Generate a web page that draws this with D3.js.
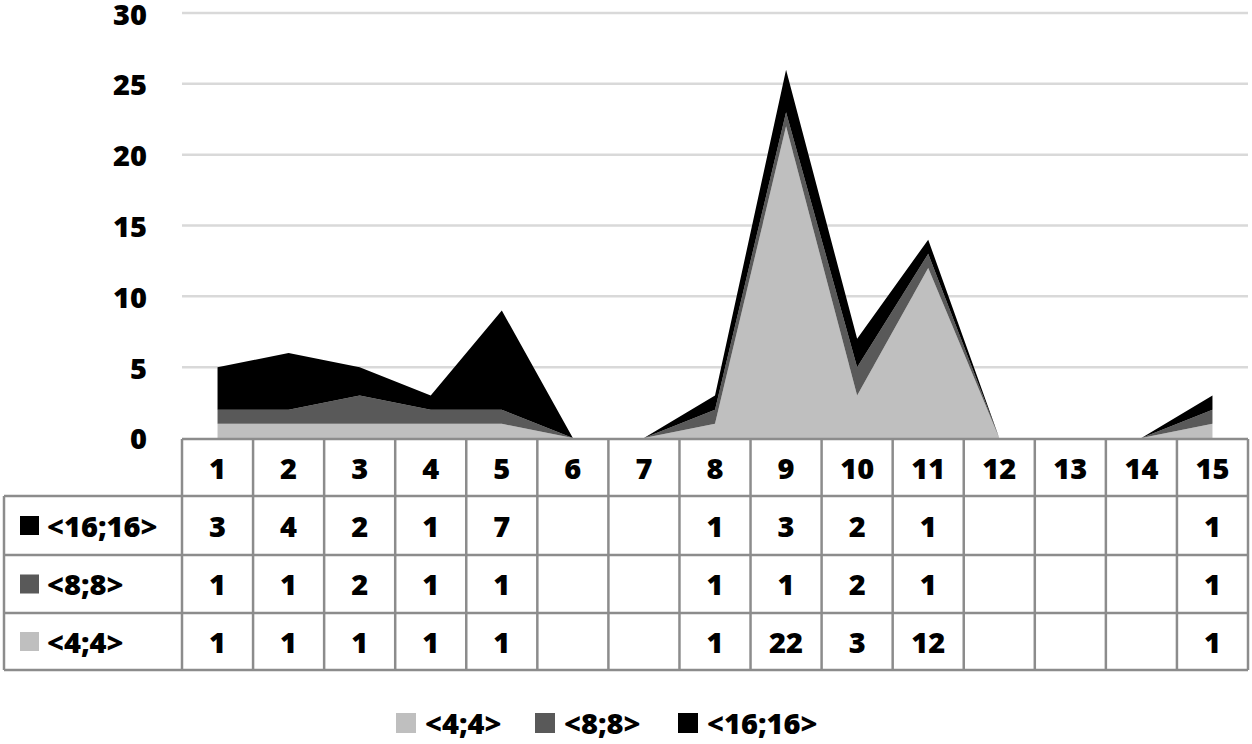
<!DOCTYPE html>
<html><head><meta charset="utf-8">
<script src="https://cdn.jsdelivr.net/npm/d3@7/dist/d3.min.js"></script>
<style>
body{margin:0;background:#fff;}
text{font-family:"Open Sans",Lato,sans-serif;font-weight:800;fill:#000;}
</style></head>
<body><svg id="c" width="1252" height="744"></svg>
<script>
const categories = ["1","2","3","4","5","6","7","8","9","10","11","12","13","14","15"];
const seriesNames = ["<4;4>","<8;8>","<16;16>"];
const s4  = [1,1,1,1,1,null,null,1,22,3,12,null,null,null,1];
const s8  = [1,1,2,1,1,null,null,1,1,2,1,null,null,null,1];
const s16 = [3,4,2,1,7,null,null,1,3,2,1,null,null,null,1];
const yTicks = [0,5,10,15,20,25,30];
const colors = ["#bfbfbf","#595959","#000000"];

const FS = "29px";
const svg = d3.select("#c");
const left = 182, right = 1248, y0 = 438, y30 = 13;
const x = d3.scaleBand().domain(categories).range([left,right]);
const y = d3.scaleLinear().domain([0,30]).range([y0,y30]);

// gridlines
svg.append("g").selectAll("line").data(yTicks.filter(d=>d>0)).join("line")
  .attr("x1",left).attr("x2",right).attr("y1",d=>y(d)).attr("y2",d=>y(d))
  .attr("stroke","#d9d9d9").attr("stroke-width",2.5);
// y labels
svg.append("g").selectAll("text").data(yTicks).join("text")
  .attr("x",147).attr("y",d=>Math.max(y(d)+1,15)).attr("dy","0.36em").attr("text-anchor","end")
  .style("font-size",FS).text(d=>d);

// stacked areas
const rows = categories.map((c,i)=>({cat:c, a:s4[i]||0, b:s8[i]||0, c2:s16[i]||0}));
const stack = d3.stack().keys(["a","b","c2"])(rows);
const area = d3.area().x(d=>x(d.data.cat)+x.bandwidth()/2).y0(d=>y(d[0])).y1(d=>y(d[1]));
svg.append("g").selectAll("path").data(stack).join("path")
  .attr("d",area).attr("fill",(d,i)=>colors[i]);

// table
const rowTop = [439,496,555,613], rowBot = 670;
const tbl = svg.append("g");
const lineC = "#8c8c8c", lw = 2.5;
tbl.append("line").attr("x1",left).attr("x2",right).attr("y1",439).attr("y2",439).attr("stroke",lineC).attr("stroke-width",lw);
[496,555,613,670].forEach(yy=>tbl.append("line").attr("x1",4).attr("x2",right).attr("y1",yy).attr("y2",yy).attr("stroke",lineC).attr("stroke-width",lw));
tbl.append("line").attr("x1",4).attr("x2",4).attr("y1",496).attr("y2",670).attr("stroke",lineC).attr("stroke-width",lw);
categories.forEach(c=>{
  tbl.append("line").attr("x1",x(c)).attr("x2",x(c)).attr("y1",439).attr("y2",670).attr("stroke",lineC).attr("stroke-width",lw);
});
tbl.append("line").attr("x1",right).attr("x2",right).attr("y1",439).attr("y2",670).attr("stroke",lineC).attr("stroke-width",lw);
// header
tbl.selectAll("text.h").data(categories).join("text").attr("class","h")
  .attr("x",d=>x(d)+x.bandwidth()/2).attr("y",(439+496)/2+1).attr("dy","0.36em")
  .attr("text-anchor","middle").style("font-size",FS).text(d=>d);
// rows: 16, 8, 4
const tableRows = [{name:seriesNames[2],vals:s16,col:colors[2]},{name:seriesNames[1],vals:s8,col:colors[1]},{name:seriesNames[0],vals:s4,col:colors[0]}];
tableRows.forEach((r,ri)=>{
  const cy = (rowTop[ri+1] + (ri<2?rowTop[ri+2]:rowBot))/2;
  tbl.append("rect").attr("x",20).attr("y",cy-9.5).attr("width",19).attr("height",19).attr("fill",r.col);
  tbl.append("text").attr("x",47).attr("y",cy+1).attr("dy","0.36em").style("font-size",FS).text(r.name);
  r.vals.forEach((v,i)=>{
    if(v==null) return;
    tbl.append("text").attr("x",x(categories[i])+x.bandwidth()/2).attr("y",cy+1).attr("dy","0.36em")
      .attr("text-anchor","middle").style("font-size",FS).text(v);
  });
});

// legend
const legX = [396,535,678];
const lg = svg.append("g");
seriesNames.forEach((n,i)=>{
  lg.append("rect").attr("x",legX[i]).attr("y",713).attr("width",20).attr("height",20).attr("fill",colors[i]);
  lg.append("text").attr("x",legX[i]+29).attr("y",724).attr("dy","0.36em").style("font-size",FS).text(n);
});
</script></body></html>
